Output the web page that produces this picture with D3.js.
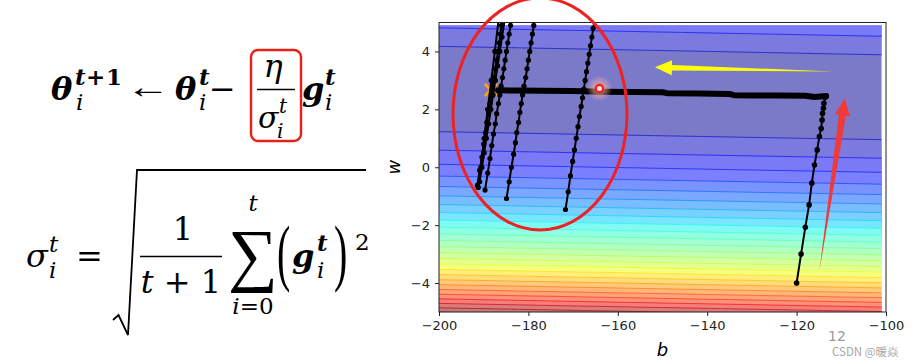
<!DOCTYPE html>
<html>
<head>
  <meta charset="utf-8">
  <script src="https://cdn.jsdelivr.net/npm/d3@7"></script>
  <style>
    body { margin: 0; background: #fff; }
    .math { font-family: "DejaVu Serif", serif; fill: #000; }
    .tick text { font-family: "DejaVu Sans", sans-serif; font-size: 13px; fill: #222; }
  </style>
</head>
<body>
<script>
// training data behind the loss surface
var xData = [338, 333, 328, 207, 226, 25, 179, 60, 208, 606];
var yData = [640, 633, 619, 393, 428, 27, 193, 66, 226, 1591];

var bTicks = [-200, -180, -160, -140, -120, -100];
var wTicks = [-4, -2, 0, 2, 4];
var levelStep = 2e5, levelMax = 5.2e6;   // 50 requested levels -> step picked by the locator

var optimum = [-188.4, 2.67];
var circleMark = [-164.1, 2.72];

// gradient path (b, w)
var climbPath = [[-120.0,-4.0],[-119.0,-3.0],[-118.05,-2.07],[-117.2,-1.3],[-116.6,-0.55],[-116.0,0.08],
  [-115.4,0.6],[-114.9,1.06],[-114.5,1.34],[-114.3,1.63],[-114.2,1.86],[-114.0,2.04],[-113.9,2.21],[-113.6,2.42],[-113.4,2.46]];
var valleyPath = [[-113.4,2.46],[-116,2.43],[-118,2.47],[-124,2.48],[-130,2.48],[-134,2.49],[-135,2.53],[-142,2.55],
  [-149,2.56],[-150,2.59],[-157,2.6],[-164,2.61],[-170,2.63],[-177,2.64],[-183,2.65],[-186.8,2.66]];
var strokeA = [[-191.4,-0.62],[-190.9,-0.1],[-190.4,0.35],[-190.0,0.8],[-189.6,1.2],[-189.3,1.55],[-188.9,1.9],[-188.6,2.2],
  [-188.3,2.5],[-188.0,2.8],[-187.7,3.1],[-187.4,3.4],[-187.1,3.7],[-186.8,4.0],[-186.5,4.3],[-186.3,4.6],[-186.0,4.9],[-185.7,5.2]];
var strokeA2 = [[-190.9,-0.5],[-190.4,0.0],[-189.9,0.5],[-189.4,1.0],[-188.9,1.5],[-188.4,2.0],[-187.9,2.5],[-187.4,3.0],
  [-186.9,3.5],[-186.4,4.0],[-185.9,4.5],[-185.2,5.2]];
var strokeA3 = [[-191.2,-0.7],[-190.65,0.0],[-189.9,1.0],[-189.1,2.0],[-188.3,3.0],[-187.5,4.0],[-186.6,5.2]];
var strokeB = [[-189.7,-0.79],[-189.1,-0.2],[-188.6,0.3],[-188.2,0.75],[-187.8,1.15],[-187.4,1.5],[-187.1,1.85],[-186.7,2.2],
  [-186.4,2.5],[-186.1,2.8],[-185.8,3.1],[-185.5,3.4],[-185.2,3.7],[-184.9,4.0],[-184.6,4.3],[-184.3,4.6],[-184.0,4.9],[-183.7,5.2]];
var strokeC = [[-184.9,-1.08],[-184.3,-0.5],[-183.8,0.0],[-183.3,0.45],[-182.9,0.85],[-182.6,1.2],[-182.2,1.55],[-181.9,1.9],
  [-181.6,2.2],[-181.3,2.5],[-181.0,2.8],[-180.6,3.1],[-180.3,3.4],[-180.0,3.7],[-179.7,4.0],[-179.4,4.3],[-179.1,4.6],[-178.8,4.9],[-178.5,5.2]];
var strokeD = [[-171.7,-1.46],[-171.1,-0.85],[-170.6,-0.3],[-170.1,0.2],[-169.7,0.6],[-169.3,1.0],[-168.9,1.4],[-168.6,1.75],
  [-168.2,2.1],[-167.9,2.4],[-167.6,2.7],[-167.3,3.0],[-167.0,3.3],[-166.7,3.6],[-166.4,3.9],[-166.1,4.2],[-165.8,4.5],[-165.5,4.8],[-165.1,5.2]];
var strokes = [strokeA, strokeA2, strokeA3, strokeB, strokeC, strokeD];

// arrows: tail -> tip, in data units
var yellowArrow = { tail: [-111.8, 3.31], tip: [-151.7, 3.45] };
var redArrow = { tail: [-114.9, -3.58], tip: [-109.2, 2.38] };

var W = 914, H = 364;
var svg = d3.select('body').append('svg').attr('width', W).attr('height', H);

var x = d3.scaleLinear().domain([-200, -100]).range([439, 886]);
var y = d3.scaleLinear().domain([-5, 5]).range([312, 22.5]);

// ---- loss surface ----
var b0 = -203, w0 = -5.3, db = 1, dw = 0.1;
var bGrid = d3.range(0, 106).map(function(i){ return b0 + i * db; });
var wGrid = d3.range(0, 107).map(function(j){ return +(w0 + j * dw).toFixed(2); });
var values = [];
wGrid.forEach(function(w){
  bGrid.forEach(function(b){
    var s = 0;
    for (var n = 0; n < xData.length; n++) { var r = yData[n] - b - w * xData[n]; s += r * r; }
    values.push(s / xData.length);
  });
});
var levels = d3.range(0, levelMax + 1, levelStep);
var contours = d3.contours().size([bGrid.length, wGrid.length]).thresholds(levels)(values);

var jetR = [[0,0],[0.35,0],[0.66,1],[0.89,1],[1,0.5]];
var jetG = [[0,0],[0.125,0],[0.375,1],[0.64,1],[0.91,0],[1,0]];
var jetB = [[0,0.5],[0.11,1],[0.34,1],[0.65,0],[1,0]];
function ch(st){ return d3.scaleLinear().domain(st.map(function(s){return s[0];})).range(st.map(function(s){return s[1];})).clamp(true); }
var jr = ch(jetR), jg = ch(jetG), jb = ch(jetB);
function jet(t, a) { // blend jet colour with white
  return d3.rgb(255 * (a * jr(t) + 1 - a), 255 * (a * jg(t) + 1 - a), 255 * (a * jb(t) + 1 - a)).toString();
}

var proj = d3.geoTransform({ point: function(cx, cy) {
  this.stream.point(x(b0 + (cx - 0.5) * db), y(w0 + (cy - 0.5) * dw));
}});
var gpath = d3.geoPath(proj);

svg.append('clipPath').attr('id', 'fillclip').append('rect')
  .attr('x', x(-200)).attr('y', y(4.9)).attr('width', x(-101) - x(-200)).attr('height', y(-5) - y(4.9));
svg.append('clipPath').attr('id', 'axclip').append('rect')
  .attr('x', x(-200)).attr('y', y(5)).attr('width', x(-100) - x(-200)).attr('height', y(-5) - y(5));

var cg = svg.append('g').attr('clip-path', 'url(#fillclip)');
cg.selectAll('path.band').data(contours).enter().append('path')
  .attr('class', 'band')
  .attr('d', gpath)
  .attr('fill', function(d){ return jet((d.value + levelStep / 2) / levelMax, 0.52); })
  .attr('stroke', function(d){ return jet((d.value + levelStep / 2) / levelMax, 0.82); })
  .attr('stroke-width', 1);

// ---- marks ----
var pg = svg.append('g').attr('clip-path', 'url(#axclip)');
var ox = x(optimum[0]), oy = y(optimum[1]);
pg.append('path').attr('d', 'M' + (ox - 6) + ',' + (oy - 6) + 'L' + (ox + 6) + ',' + (oy + 6) + 'M' + (ox - 6) + ',' + (oy + 6) + 'L' + (ox + 6) + ',' + (oy - 6))
  .attr('stroke', '#ffa500').attr('stroke-width', 3);

var line = d3.line().x(function(d){ return x(d[0]); }).y(function(d){ return y(d[1]); });
strokes.forEach(function(s){
  pg.append('path').attr('d', line(s)).attr('fill', 'none').attr('stroke', '#000').attr('stroke-width', 2);
  pg.selectAll(null).data(s).enter().append('circle')
    .attr('cx', function(d){ return x(d[0]); }).attr('cy', function(d){ return y(d[1]); })
    .attr('r', 2.6).attr('fill', '#000');
});
pg.append('path').attr('d', line(climbPath)).attr('fill', 'none').attr('stroke', '#000').attr('stroke-width', 2);
pg.selectAll(null).data(climbPath).enter().append('circle')
  .attr('cx', function(d){ return x(d[0]); }).attr('cy', function(d){ return y(d[1]); })
  .attr('r', 2.8).attr('fill', '#000');
pg.append('path').attr('d', line(valleyPath)).attr('fill', 'none').attr('stroke', '#000')
  .attr('stroke-width', 6).attr('stroke-linejoin', 'round').attr('stroke-linecap', 'round');

// ---- axes ----
svg.append('rect').attr('x', x(-200)).attr('y', y(5)).attr('width', x(-100) - x(-200)).attr('height', y(-5) - y(5))
  .attr('fill', 'none').attr('stroke', '#222').attr('stroke-width', 1);
var fmt = d3.format('d');
var xa = svg.append('g').attr('transform', 'translate(0,' + y(-5) + ')')
  .call(d3.axisBottom(x).tickValues(bTicks).tickSize(4).tickPadding(5).tickFormat(fmt));
var ya = svg.append('g').attr('transform', 'translate(' + x(-200) + ',0)')
  .call(d3.axisLeft(y).tickValues(wTicks).tickSize(4).tickPadding(5).tickFormat(fmt));
[xa, ya].forEach(function(a){ a.select('.domain').remove(); a.selectAll('.tick line').attr('stroke', '#222'); });

svg.append('text').attr('x', (x(-200) + x(-100)) / 2).attr('y', 356).attr('text-anchor', 'middle')
  .style('font-family', 'DejaVu Sans').style('font-style', 'italic').style('font-size', '18px').text('b');
svg.append('text').attr('transform', 'translate(400,' + y(0) + ') rotate(-90)').attr('text-anchor', 'middle')
  .style('font-family', 'DejaVu Sans').style('font-style', 'italic').style('font-size', '18px').text('w');

// ---- annotations ----
var defs = svg.append('defs');
var rg = defs.append('radialGradient').attr('id', 'glow');
rg.append('stop').attr('offset', '0%').attr('stop-color', '#ff9a7a').attr('stop-opacity', 0.9);
rg.append('stop').attr('offset', '55%').attr('stop-color', '#ffb0a0').attr('stop-opacity', 0.45);
rg.append('stop').attr('offset', '100%').attr('stop-color', '#ffc0b0').attr('stop-opacity', 0);
svg.append('circle').attr('cx', x(circleMark[0])).attr('cy', y(circleMark[1])).attr('r', 13).attr('fill', 'url(#glow)');
svg.append('circle').attr('cx', x(circleMark[0])).attr('cy', y(circleMark[1])).attr('r', 3.6)
  .attr('fill', '#ffe6e0').attr('stroke', '#ff1a1a').attr('stroke-width', 2.2);

svg.append('ellipse').attr('cx', 540).attr('cy', 114).attr('rx', 87).attr('ry', 116)
  .attr('fill', 'none').attr('stroke', '#ee2222').attr('stroke-width', 3);

function arrowPath(a, headLen, headHalf, shaftHalf) {
  var tx = x(a.tail[0]), ty = y(a.tail[1]), px = x(a.tip[0]), py = y(a.tip[1]);
  var dx = px - tx, dy = py - ty, L = Math.sqrt(dx * dx + dy * dy);
  var ux = dx / L, uy = dy / L, nx = -uy, ny = ux;
  var bx = px - ux * headLen, by = py - uy * headLen;
  return 'M' + tx + ',' + ty +
    'L' + (bx + nx * shaftHalf) + ',' + (by + ny * shaftHalf) +
    'L' + (bx + nx * headHalf) + ',' + (by + ny * headHalf) +
    'L' + px + ',' + py +
    'L' + (bx - nx * headHalf) + ',' + (by - ny * headHalf) +
    'L' + (bx - nx * shaftHalf) + ',' + (by - ny * shaftHalf) + 'Z';
}
svg.append('path').attr('d', arrowPath(yellowArrow, 17, 7.5, 2.8)).attr('fill', '#ffff00');
svg.append('path').attr('d', arrowPath(redArrow, 17, 7.5, 3.5)).attr('fill', '#f03a3a');

// watermark
svg.append('text').attr('x', 828).attr('y', 341).style('font-family', 'DejaVu Sans').style('font-size', '14px')
  .attr('fill', '#9a9a9a').text('12');
svg.append('text').attr('x', 832).attr('y', 356).style('font-family', '"Noto Sans CJK SC", "DejaVu Sans"').style('font-size', '11.5px')
  .attr('fill', '#a8a8a8').text('CSDN @暖焱');

// ---- formula ----
var m = svg.append('g').attr('class', 'math');
function tx(px, py, s, size, opt) {
  opt = opt || {};
  var t = m.append('text').style('font-size', size + 'px').text(s);
  if (opt.tr) t.attr('transform', 'translate(' + px + ',' + py + ') ' + opt.tr);
  else t.attr('x', px).attr('y', py);
  if (opt.it) t.style('font-style', 'italic');
  if (opt.bf) t.style('font-weight', 'bold');
  if (opt.anchor) t.attr('text-anchor', opt.anchor);
  if (opt.ff) t.style('font-family', opt.ff);
  return t;
}
var thin = '"Liberation Serif", serif';
// line 1
tx(51, 100, 'θ', 32, {it: 1, bf: 1});
tx(75, 85, 't', 23, {it: 1, bf: 1});
tx(86, 85, '+', 23, {bf: 1});
tx(106, 85, '1', 23, {bf: 1});
tx(76, 110, 'i', 23, {it: 1});
tx(126, 98, '←', 34, {ff: thin, tr: 'scale(1.3,1)'});
tx(175, 100, 'θ', 32, {it: 1, bf: 1});
tx(199, 85, 't', 23, {it: 1, bf: 1});
tx(199, 110, 'i', 23, {it: 1});
tx(209, 100, '−', 32);
m.append('rect').attr('x', 251).attr('y', 50).attr('width', 50).attr('height', 91).attr('rx', 7)
  .attr('fill', 'none').attr('stroke', '#e8201a').attr('stroke-width', 2.4);
tx(273, 77, 'η', 32, {it: 1, anchor: 'middle'});
m.append('line').attr('x1', 257).attr('x2', 295).attr('y1', 89.5).attr('y2', 89.5).attr('stroke', '#000').attr('stroke-width', 1.6);
tx(258, 128, 'σ', 30, {it: 1});
tx(279, 113, 't', 20, {it: 1});
tx(277, 138, 'i', 20, {it: 1});
tx(302, 100, 'g', 32, {it: 1, bf: 1});
tx(325, 85, 't', 23, {it: 1, bf: 1});
tx(325, 110, 'i', 23, {it: 1});
// line 2
tx(26, 267, 'σ', 32, {it: 1});
tx(49, 252, 't', 23, {it: 1});
tx(49, 278, 'i', 23, {it: 1});
tx(76, 267, '=', 32);
m.append('path').attr('d', 'M113,320L118.5,315L128,335L137,170L366,170')
  .attr('fill', 'none').attr('stroke', '#000').attr('stroke-width', 1.8);
tx(183, 240, '1', 32, {anchor: 'middle'});
m.append('line').attr('x1', 140).attr('x2', 222).attr('y1', 256.5).attr('y2', 256.5).attr('stroke', '#000').attr('stroke-width', 1.6);
var den = tx(181, 293, '', 32, {anchor: 'middle'});
den.append('tspan').style('font-style', 'italic').text('t');
den.append('tspan').text(' + 1');
tx(253, 278, '∑', 70, {anchor: 'middle', ff: thin});
tx(253, 211, 't', 23, {it: 1, anchor: 'middle'});
var lim = tx(253, 314, '', 23, {anchor: 'middle'});
lim.append('tspan').style('font-style', 'italic').text('i');
lim.append('tspan').text('=0');
tx(277, 277, '(', 40, {ff: thin, tr: 'scale(1,1.85)'});
tx(292, 267, 'g', 32, {it: 1, bf: 1});
tx(317, 251, 't', 23, {it: 1, bf: 1});
tx(317, 278, 'i', 23, {it: 1});
tx(334, 277, ')', 40, {ff: thin, tr: 'scale(1,1.85)'});
tx(355, 250, '2', 23);
</script>
</body>
</html>
